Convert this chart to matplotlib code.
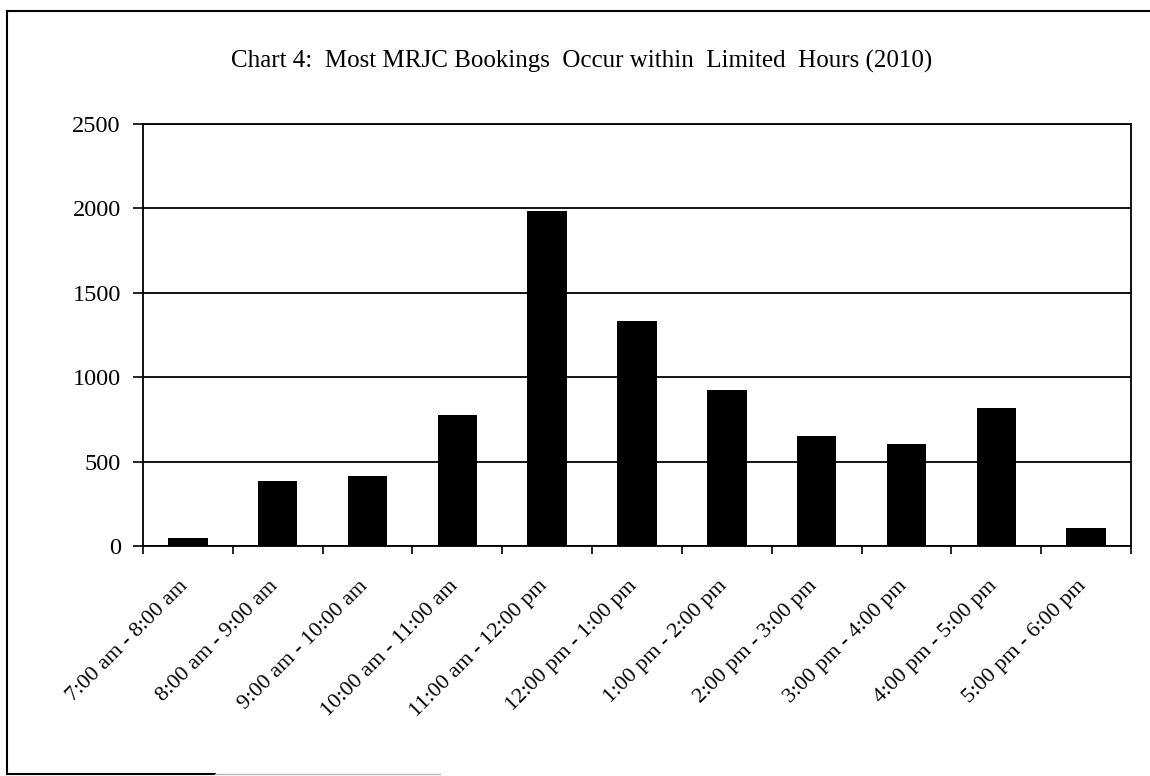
import numpy as np
import matplotlib
matplotlib.use("Agg")
import matplotlib.pyplot as plt
import matplotlib.transforms as mtransforms
from matplotlib.lines import Line2D

# hourly booking counts
hours = [
    "7:00 am - 8:00 am",
    "8:00 am - 9:00 am",
    "9:00 am - 10:00 am",
    "10:00 am - 11:00 am",
    "11:00 am - 12:00 pm",
    "12:00 pm - 1:00 pm",
    "1:00 pm - 2:00 pm",
    "2:00 pm - 3:00 pm",
    "3:00 pm - 4:00 pm",
    "4:00 pm - 5:00 pm",
    "5:00 pm - 6:00 pm",
]
bookings = [50, 387, 415, 776, 1982, 1332, 923, 652, 604, 819, 107]
y_ticks = [0, 500, 1000, 1500, 2000, 2500]
title = "Chart 4:  Most MRJC Bookings  Occur within  Limited  Hours (2010)"

plt.rcParams["font.family"] = ["Liberation Serif", "DejaVu Serif"]

fig = plt.figure(figsize=(11.5, 7.76), dpi=100)
ax = fig.add_axes([143 / 1150, 1 - 546 / 776, (1131 - 143) / 1150, (546 - 124) / 776])

x = np.arange(len(hours))
ax.bar(x, bookings, width=0.44, color="black", zorder=3)

ax.set_xlim(-0.5, len(hours) - 0.5)
ax.set_ylim(0, 2500)
ax.set_yticks(y_ticks)
ax.set_yticklabels([str(v) for v in y_ticks], fontsize=17.5)
ax.yaxis.grid(True, color="black", linewidth=1.3, zorder=1)
ax.tick_params(axis="y", direction="out", length=7, width=1.2, pad=9)

# tick marks sit between categories, labels at the centres
ax.set_xticks(np.arange(-0.5, len(hours), 1))
ax.set_xticklabels([])
ax.tick_params(axis="x", which="major", direction="out", length=6, width=1.2)
ax.set_xticks(x, minor=True)
ax.set_xticklabels(hours, minor=True, rotation=45, ha="right", rotation_mode="anchor",
                   fontsize=16)
ax.tick_params(axis="x", which="minor", length=0, pad=14)
shift = mtransforms.ScaledTranslation(-0.09, -0.11, fig.dpi_scale_trans)
for lab in ax.get_xticklabels(minor=True):
    lab.set_transform(lab.get_transform() + shift)

for s in ax.spines.values():
    s.set_linewidth(1.3)
    s.set_color("black")

fig.text(582 / 1150, 1 - 61 / 776, title, ha="center", va="center", fontsize=18)

# outer frame of the scanned chart
fig.add_artist(Line2D([7 / 1150, 1.0], [1 - 11 / 776, 1 - 11 / 776], color="black", lw=1.5))
fig.add_artist(Line2D([7 / 1150, 7 / 1150], [1 - 11 / 776, 1 - 774 / 776], color="black", lw=1.5))
fig.add_artist(Line2D([7 / 1150, 215 / 1150], [1 - 774 / 776, 1 - 774 / 776], color="black", lw=1.5))
fig.add_artist(Line2D([215 / 1150, 440 / 1150], [1 - 774 / 776, 1 - 774 / 776], color="#bbbbbb", lw=1.0))

fig.savefig("out.png", dpi=100)
